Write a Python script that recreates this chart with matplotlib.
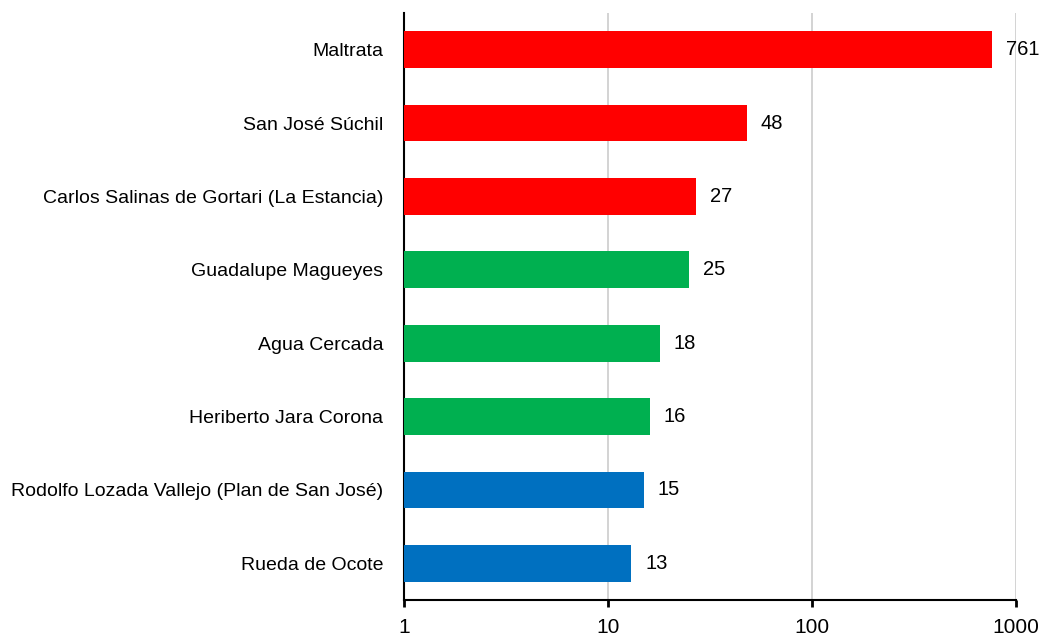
import matplotlib
matplotlib.use("Agg")
import matplotlib.pyplot as plt
from matplotlib.ticker import FixedLocator, FixedFormatter, NullLocator

plt.rcParams['font.family'] = ['Liberation Sans', 'DejaVu Sans']

categories = ["Maltrata", "San José Súchil", "Carlos Salinas de Gortari (La Estancia)",
              "Guadalupe Magueyes", "Agua Cercada", "Heriberto Jara Corona",
              "Rodolfo Lozada Vallejo (Plan de San José)", "Rueda de Ocote"]
values = [761, 48, 27, 25, 18, 16, 15, 13]
colors = ["#FF0000", "#FF0000", "#FF0000", "#00B050", "#00B050", "#00B050", "#0070C0", "#0070C0"]
xticks = [1, 10, 100, 1000]
xticklabels = ["1", "10", "100", "1000"]

fig = plt.figure(figsize=(10.43, 6.41), dpi=100)
ax = fig.add_axes([404/1043, 41/641, (1016-404)/1043, (600-13)/641])

ypos = list(range(len(categories)))
ax.barh(ypos, values, height=0.5, color=colors, zorder=3)
ax.set_xscale('log')
ax.set_xlim(1, 1000)
ax.set_ylim(len(categories) - 0.5, -0.5)
ax.set_yticks(ypos)
ax.set_yticklabels(categories, fontsize=14)
ax.tick_params(axis='y', length=0, pad=15)
ax.xaxis.set_major_locator(FixedLocator(xticks))
ax.xaxis.set_major_formatter(FixedFormatter(xticklabels))
ax.xaxis.set_minor_locator(NullLocator())
ax.tick_params(axis='x', direction='out', length=5, width=2, labelsize=15, pad=8)
ax.grid(axis='x', color='#D0D0D0', linewidth=1.3, zorder=0)
for s in ['top', 'right']:
    ax.spines[s].set_visible(False)
ax.spines['left'].set_linewidth(1.5)
ax.spines['bottom'].set_linewidth(1.5)

for y, v in zip(ypos, values):
    ax.annotate(str(v), xy=(v, y), xytext=(10, 0), textcoords='offset points',
                ha='left', va='center', fontsize=14.5, annotation_clip=False)

fig.savefig("out.png", dpi=100)
